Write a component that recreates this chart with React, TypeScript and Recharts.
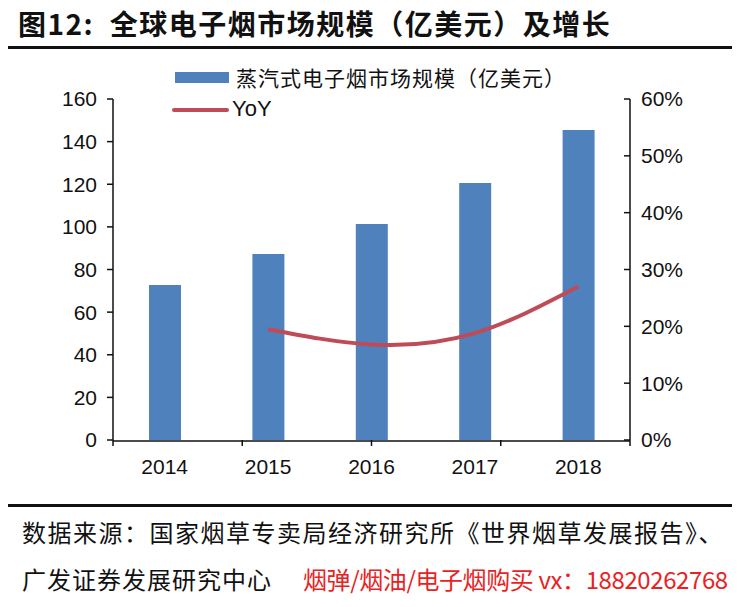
import React from 'react';
import { ComposedChart, Bar, Line, XAxis, YAxis } from 'recharts';

const years = ['2014', '2015', '2016', '2017', '2018'];
const marketSize = [72.7, 87.3, 101.4, 120.6, 145.5];
const yoy: (number | null)[] = [null, 19.5, 16.8, 18.8, 27.0];
const leftTicks = [0, 20, 40, 60, 80, 100, 120, 140, 160];
const rightTicks = [0, 10, 20, 30, 40, 50, 60];
const boundaryTicks = [0, 1, 2, 3, 4, 5];

const title = '图12:  全球电子烟市场规模（亿美元）及增长';
const barName = '蒸汽式电子烟市场规模（亿美元）';
const lineName = 'YoY';
const source1 = '数据来源：国家烟草专卖局经济研究所《世界烟草发展报告》、';
const source2 = '广发证券发展研究中心';
const source3 = '烟弹/烟油/电子烟购买 vx：18820262768';

const data = years.map((y, i) => ({ year: y, size: marketSize[i], yoy: yoy[i] }));

const FONT = '"Liberation Sans", Arial, "Noto Sans CJK SC", sans-serif';
const CJK = '"Noto Sans CJK SC", "Liberation Sans", sans-serif';
const BLUE = '#4f81bd';
const RED = '#bf4b58';

export default function App() {
  const tickStyle = { fontSize: 21, fill: '#111', fontFamily: FONT };
  return (
    <div style={{ position: 'absolute', left: 0, top: 0, width: 750, height: 607, background: '#fff', overflow: 'hidden' }}>
      <div style={{ position: 'absolute', left: 18, top: 3, fontFamily: CJK, fontWeight: 700, fontSize: 28, color: '#111', whiteSpace: 'pre', letterSpacing: 1.5 }}>
        {title}
      </div>
      <div style={{ position: 'absolute', left: 8, top: 46, width: 724, height: 3, background: '#111' }} />

      <ComposedChart width={750} height={490} data={data} margin={{ top: 99, right: 0, left: 0, bottom: 9 }}
        style={{ position: 'absolute', left: 0, top: 0 }}>
        <XAxis xAxisId="b" type="number" domain={[0, 5]} ticks={boundaryTicks} allowDataOverflow interval={0}
          height={1} tick={{ fontSize: 1, fill: 'none' }} tickFormatter={() => ''} axisLine={false}
          tickLine={{ stroke: '#111', strokeWidth: 1.5 }} tickSize={6} />
        <XAxis xAxisId="c" dataKey="year" type="category" height={40} tickLine={false}
          axisLine={{ stroke: '#111', strokeWidth: 1.5 }} tick={tickStyle} tickSize={6} tickMargin={12} />
        <YAxis yAxisId="l" orientation="left" width={113} domain={[0, 160]} ticks={leftTicks}
          axisLine={{ stroke: '#111', strokeWidth: 1.5 }} tickLine={{ stroke: '#111', strokeWidth: 1.5 }}
          tick={tickStyle} tickSize={6} tickMargin={10} interval={0} />
        <YAxis yAxisId="r" orientation="right" width={120} domain={[0, 60]} ticks={rightTicks}
          tickFormatter={(v: number) => `${v}%`}
          axisLine={{ stroke: '#111', strokeWidth: 1.5 }} tickLine={{ stroke: '#111', strokeWidth: 1.5 }}
          tick={tickStyle} tickSize={-6} tickMargin={17} interval={0} />
        <Bar xAxisId="c" yAxisId="l" dataKey="size" name={barName} fill={BLUE} barSize={32} isAnimationActive={false} />
        <Line xAxisId="c" yAxisId="r" dataKey="yoy" name={lineName} type="natural" stroke={RED} strokeWidth={4}
          dot={false} activeDot={false} connectNulls={false} isAnimationActive={false} />
      </ComposedChart>

      <div style={{ position: 'absolute', left: 175, top: 72, width: 54, height: 11, background: BLUE }} />
      <div style={{ position: 'absolute', left: 236, top: 62, fontFamily: CJK, fontSize: 21, color: '#111', whiteSpace: 'pre', letterSpacing: 1 }}>{barName}</div>
      <div style={{ position: 'absolute', left: 172, top: 108, width: 57, height: 4, background: RED, borderRadius: 2 }} />
      <div style={{ position: 'absolute', left: 232, top: 96, fontFamily: FONT, fontSize: 22, color: '#111', whiteSpace: 'pre' }}>{lineName}</div>

      <div style={{ position: 'absolute', left: 8, top: 504, width: 724, height: 3, background: '#111' }} />
      <div style={{ position: 'absolute', left: 22, top: 514, fontFamily: CJK, fontSize: 24, color: '#111', whiteSpace: 'pre', letterSpacing: 1.5 }}>{source1}</div>
      <div style={{ position: 'absolute', left: 22, top: 561, fontFamily: CJK, fontSize: 24, color: '#111', whiteSpace: 'pre', letterSpacing: 1 }}>{source2}</div>
      <div style={{ position: 'absolute', left: 303, top: 561, fontFamily: CJK, fontSize: 24, color: '#e8231f', whiteSpace: 'pre', letterSpacing: -0.4 }}>{source3}</div>
    </div>
  );
}
